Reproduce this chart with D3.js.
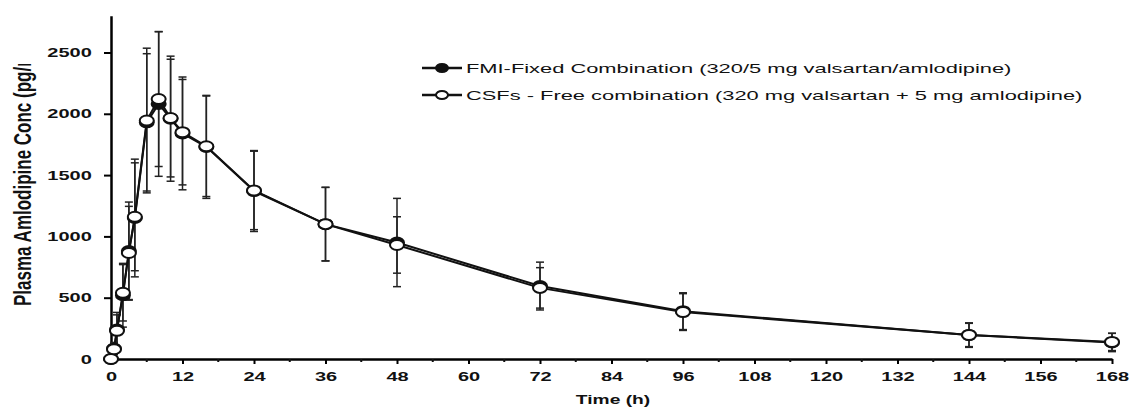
<!DOCTYPE html>
<html>
<head>
<meta charset="utf-8">
<script src="https://cdn.jsdelivr.net/npm/d3@7"></script>
<style>
  body { margin: 0; background: #fff; }
  text { font-family: Arial, "Liberation Sans", sans-serif; fill: #111; }
</style>
</head>
<body>
<div id="chart"></div>
<script>
// sampling times (h)
const times = [0, 0.5, 1, 2, 3, 4, 6, 8, 10, 12, 16, 24, 36, 48, 72, 96, 144, 168];

// FMI - fixed combination, mean and SD (pg/mL)
const fmiMean = [0, 85, 240, 520, 880, 1150, 1930, 2080, 1960, 1840, 1730, 1370, 1100, 950, 595, 390, 195, 135];
const fmiSd   = [0, 50, 140, 260, 400, 480, 560, 590, 510, 460, 420, 330, 300, 360, 195, 150, 100, 75];

// CSFs - free combination, mean and SD (pg/mL)
const csfMean = [0, 80, 230, 540, 865, 1160, 1945, 2120, 1965, 1850, 1735, 1375, 1100, 930, 580, 383, 196, 139];
const csfSd   = [0, 40, 130, 230, 380, 440, 590, 550, 480, 430, 410, 320, 300, 230, 165, 150, 95, 70];

const xTicks = d3.range(0, 169, 12);
const xMinor = d3.range(6, 169, 12);
const yTicks = [0, 500, 1000, 1500, 2000, 2500];

const legendLabels = [
  "FMI-Fixed Combination (320/5 mg valsartan/amlodipine)",
  "CSFs - Free combination (320 mg valsartan + 5 mg amlodipine)"
];

const width = 1132, height = 407;
const stretch = 1.6; // picture is horizontally stretched

const svg = d3.select("#chart").append("svg")
  .attr("width", width)
  .attr("height", height);

const x = d3.scaleLinear().domain([0, 168]).range([111, 1112]);
const y = d3.scaleLinear().domain([0, 2800]).range([359, 15.7]);

// x axis
const xAxis = svg.append("g")
  .attr("transform", `translate(0,${y(0)})`)
  .call(d3.axisBottom(x).tickValues(xTicks).tickSize(5).tickSizeOuter(0));
xAxis.select(".domain").attr("stroke-width", 2.5);
xAxis.selectAll(".tick line").attr("stroke-width", 2);
xAxis.selectAll(".tick text")
  .attr("transform", `scale(${stretch},1)`)
  .attr("y", 13)
  .style("font-size", "12.5px").style("font-weight", "bold");

svg.append("g").selectAll("line")
  .data(xMinor)
  .enter().append("line")
    .attr("x1", d => x(d)).attr("x2", d => x(d))
    .attr("y1", y(0)).attr("y2", y(0) + 3)
    .attr("stroke", "#111").attr("stroke-width", 2);

// y axis
const yAxis = svg.append("g")
  .attr("transform", `translate(${x(0)},0)`)
  .call(d3.axisLeft(y).tickValues(yTicks).tickFormat(d3.format("d")).tickSize(7).tickSizeOuter(0));
yAxis.select(".domain").attr("stroke-width", 2.5);
yAxis.selectAll(".tick line").attr("stroke-width", 2);
yAxis.selectAll(".tick text")
  .attr("transform", `scale(${stretch},1)`)
  .attr("x", -12)
  .style("font-size", "12.5px").style("font-weight", "bold");

// axis titles
svg.append("text")
  .attr("transform", `translate(613,404) scale(${stretch},1)`)
  .attr("text-anchor", "middle")
  .style("font-size", "12px").style("font-weight", "bold")
  .text("Time (h)");

// y title is cut off at the top in the original, nested svg clips it
const ylab = svg.append("svg")
  .attr("x", 0).attr("y", 64)
  .attr("width", 60).attr("height", 300);
ylab.append("text")
  .attr("transform", `translate(31,${306 - 64}) scale(1.4,1) rotate(-90)`)
  .style("font-size", "17px").style("font-weight", "bold")
  .text("Plasma Amlodipine Conc (pg/mL)");

const series = [
  { mean: fmiMean, sd: fmiSd, fill: "#111" },
  { mean: csfMean, sd: csfSd, fill: "#fff" }
];

// error bars
series.forEach(s => {
  const g = svg.append("g").attr("stroke", "#222").attr("stroke-width", 1.5);
  times.forEach((t, i) => {
    if (s.sd[i] <= 0) return;
    const cx = x(t), top = y(s.mean[i] + s.sd[i]), bot = y(s.mean[i] - s.sd[i]);
    g.append("line").attr("x1", cx).attr("x2", cx).attr("y1", top).attr("y2", bot);
    g.append("line").attr("x1", cx - 4).attr("x2", cx + 4).attr("y1", top).attr("y2", top);
    g.append("line").attr("x1", cx - 4).attr("x2", cx + 4).attr("y1", bot).attr("y2", bot);
  });
});

const line = d3.line()
  .x(d => x(d[0]))
  .y(d => y(d[1]));

series.forEach(s => {
  svg.append("path")
    .datum(times.map((t, i) => [t, s.mean[i]]))
    .attr("d", line)
    .attr("fill", "none")
    .attr("stroke", "#111")
    .attr("stroke-width", 2);
});

series.forEach(s => {
  svg.append("g").selectAll("ellipse")
    .data(times.map((t, i) => [t, s.mean[i]]))
    .enter().append("ellipse")
      .attr("cx", d => x(d[0]))
      .attr("cy", d => y(d[1]))
      .attr("rx", 7).attr("ry", 5)
      .attr("fill", s.fill)
      .attr("stroke", "#111")
      .attr("stroke-width", 2);
});

// legend
const legend = svg.append("g");
legendLabels.forEach((label, i) => {
  const ly = 68 + i * 27;
  legend.append("line")
    .attr("x1", 422).attr("x2", 462).attr("y1", ly).attr("y2", ly)
    .attr("stroke", "#111").attr("stroke-width", 2.5);
  legend.append("ellipse")
    .attr("cx", 442).attr("cy", ly).attr("rx", 6).attr("ry", 4)
    .attr("fill", series[i].fill).attr("stroke", "#111").attr("stroke-width", 2);
  legend.append("text")
    .attr("transform", `translate(466,${ly + 4.5}) scale(1.75,1)`)
    .style("font-size", "12.5px")
    .text(label);
});
</script>
</body>
</html>
